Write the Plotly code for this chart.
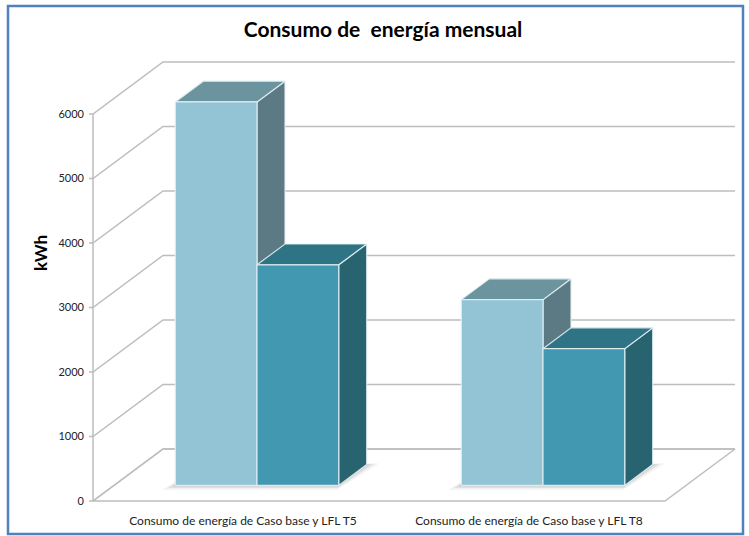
import plotly.graph_objects as go

# ---------------- data ----------------
categories = ["Consumo de energía de Caso base y LFL T5",
              "Consumo de energía de Caso base y LFL T8"]
series_names = ["Caso base", "LFL"]
caso_base = [5945, 2880]
lfl = [3420, 2120]
y_ticks = [0, 1000, 2000, 3000, 4000, 5000, 6000]
y_tick_labels = [str(v) for v in y_ticks]
title_text = "Consumo de  energía mensual"
y_title = "kWh"

# ---------------- layout / style constants ----------------
W, H = 749, 536
ML, MB = 88, 30
X0 = 93              # front-left corner of the floor (px)
FLOOR_W = 572        # width of the floor front edge (px)
ZERO_PY = 501        # pixel row of value 0 at the front plane
PX_PER_UNIT = 387.0 / 6000.0
DEPTH_DX = 70        # horizontal shift from front to back wall (px)
DEPTH_DY_PX = 52     # vertical shift from front to back wall (px)
DEPTH_DV = DEPTH_DY_PX / PX_PER_UNIT
D_FRONT, D_BACK = 0.3, 0.7
GAP_RATIO = 1.5
FONT = "Lato"

face_colors = [
    {"front": "#93C4D5", "top": "#6B949F", "side": "#5B7A83"},
    {"front": "#4297B1", "top": "#2F7485", "side": "#276470"},
]
edge_color = "rgba(225,238,243,0.9)"
grid_color = "#BDBDBD"

series = [caso_base, lfl]


def proj(X, V, D):
    return X + D * DEPTH_DX, V + D * DEPTH_DV


def poly_trace(points, fill, line_color, line_width=1.0, name=None):
    xs = [p[0] for p in points] + [points[0][0]]
    ys = [p[1] for p in points] + [points[0][1]]
    return go.Scatter(x=xs, y=ys, mode="lines", fill="toself", fillcolor=fill,
                      line=dict(color=line_color, width=line_width),
                      hoverinfo="skip", showlegend=False, name=name)


fig = go.Figure()

# floor
floor_pts = [proj(X0, 0, 0), proj(X0 + FLOOR_W, 0, 0),
             proj(X0 + FLOOR_W, 0, 1), proj(X0, 0, 1)]
fig.add_trace(poly_trace(floor_pts, "white", grid_color, 1.5))

# walls gridlines (tick + left wall diagonal + back wall horizontal)
for t in y_ticks:
    p1 = proj(X0, t, 1)
    p2 = proj(X0 + FLOOR_W, t, 1)
    fig.add_trace(go.Scatter(x=[X0 - 4, X0, p1[0], p2[0]], y=[t, t, p1[1], p2[1]],
                             mode="lines", line=dict(color=grid_color, width=1.5),
                             hoverinfo="skip", showlegend=False))

# front axis line
fig.add_trace(go.Scatter(x=[X0, X0], y=[0, y_ticks[-1]], mode="lines",
                         line=dict(color=grid_color, width=1.5),
                         hoverinfo="skip", showlegend=False))

G = FLOOR_W / len(categories)
bar_w = G / (len(series) + GAP_RATIO)

# soft shadows on the floor
for i in range(len(categories)):
    xl = X0 + i * G + GAP_RATIO * bar_w / 2
    xr = xl + len(series) * bar_w
    for grow, alpha in [(7, 0.08), (4, 0.12), (1.5, 0.18)]:
        sh = [proj(xl - grow, 0, D_FRONT - 0.012 * grow),
              proj(xr + grow * 0.6, 0, D_FRONT - 0.012 * grow),
              proj(xr + grow * 1.5, 0, D_BACK + 0.003 * grow),
              proj(xl, 0, D_BACK + 0.003 * grow)]
        fig.add_trace(poly_trace(sh, "rgba(90,90,90,%.2f)" % alpha, "rgba(0,0,0,0)", 0))

# bars
for i in range(len(categories)):
    for j, vals in enumerate(series):
        v = vals[i]
        xl = X0 + i * G + GAP_RATIO * bar_w / 2 + j * bar_w
        xr = xl + bar_w
        c = face_colors[j]
        front = [proj(xl, 0, D_FRONT), proj(xr, 0, D_FRONT),
                 proj(xr, v, D_FRONT), proj(xl, v, D_FRONT)]
        top = [proj(xl, v, D_FRONT), proj(xr, v, D_FRONT),
               proj(xr, v, D_BACK), proj(xl, v, D_BACK)]
        side = [proj(xr, 0, D_FRONT), proj(xr, 0, D_BACK),
                proj(xr, v, D_BACK), proj(xr, v, D_FRONT)]
        fig.add_trace(poly_trace(side, c["side"], edge_color, 1.2, series_names[j]))
        fig.add_trace(poly_trace(top, c["top"], edge_color, 1.2, series_names[j]))
        fig.add_trace(poly_trace(front, c["front"], edge_color, 1.2, series_names[j]))

plot_h = H - MB
y_lo = -(plot_h - ZERO_PY) / PX_PER_UNIT
y_hi = ZERO_PY / PX_PER_UNIT

label_pos = [proj(X0 + (i + 0.5) * G, 0, 0.1)[0] for i in range(len(categories))]


def paper_x(px):
    return (px - ML) / (W - ML)


def paper_y(py):
    return (plot_h - py) / plot_h


fig.update_layout(
    width=W, height=H,
    margin=dict(l=ML, r=0, t=0, b=MB, pad=0),
    paper_bgcolor="white", plot_bgcolor="white",
    showlegend=False,
    title=dict(text=title_text, x=383 / W, y=1 - 30 / H, xref="container",
               yref="container", xanchor="center", yanchor="middle",
               font=dict(family=FONT, size=21, color="black", weight="bold")),
    xaxis=dict(range=[ML, W], showgrid=False, zeroline=False, showline=False,
               tickvals=label_pos, ticktext=categories, ticks="",
               ticklabelstandoff=6,
               tickfont=dict(family=FONT, size=12, color="#222222"),
               fixedrange=True),
    yaxis=dict(range=[y_lo, y_hi], showgrid=False, zeroline=False, showline=False,
               tickvals=y_ticks, ticktext=y_tick_labels, ticks="",
               ticklabelstandoff=3,
               tickfont=dict(family=FONT, size=11, color="#222222"),
               title=dict(text=y_title, standoff=6,
                          font=dict(family=FONT, size=17, color="black", weight="bold")),
               fixedrange=True),
    shapes=[dict(type="rect", xref="paper", yref="paper",
                 x0=paper_x(8), x1=paper_x(743), y0=paper_y(534), y1=paper_y(6),
                 line=dict(color="#4F81BD", width=2.5), fillcolor="rgba(0,0,0,0)",
                 layer="above")],
)

fig.write_html("out.html")
